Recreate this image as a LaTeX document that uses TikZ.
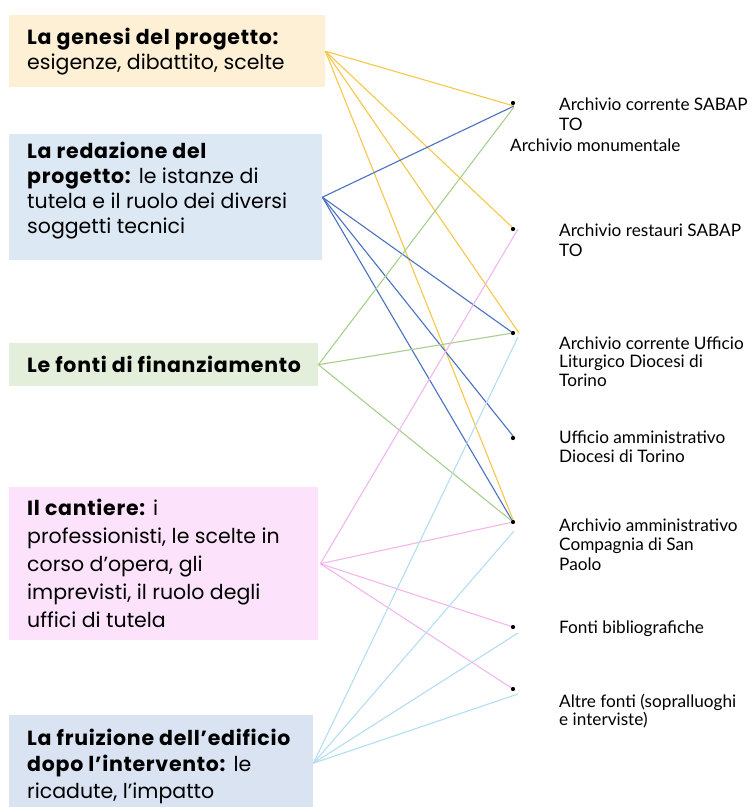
\documentclass[tikz,border=0pt]{standalone}
\usepackage{fontspec}
\setmainfont{Lato}
\newfontfamily\leftfont{Poppins}[BoldFeatures={LetterSpace=3.5}]
\definecolor{bxYel}{HTML}{FDF0D5}
\definecolor{bxBlu}{HTML}{DDE8F5}
\definecolor{bxGrn}{HTML}{E3EEDB}
\definecolor{bxPnk}{HTML}{FCE3FB}
\definecolor{bxGry}{HTML}{D9E3F2}
\definecolor{lnYel}{HTML}{F6C84A}
\definecolor{lnBlu}{HTML}{4A72C0}
\definecolor{lnGrn}{HTML}{A8CF8E}
\definecolor{lnPnk}{HTML}{F2B8EE}
\definecolor{lnLbl}{HTML}{B6DDF3}
\newcommand\mlines[2]{\vtop{\baselineskip=#1pt\relax #2}}
\begin{document}
\begin{tikzpicture}[x=1pt,y=-1pt,
  sbox/.style={draw=none,inner sep=0pt,anchor=north west},
  ltext/.style={inner sep=0pt,anchor=base west,font=\leftfont\fontsize{20.5}{25}\selectfont},
  rtext/.style={inner sep=0pt,anchor=base west,font=\fontsize{17.2}{19}\selectfont},
  sdot/.style={circle,fill=black,inner sep=0pt,minimum size=4pt},
  conn/.style={line width=1.1pt}]
\clip (0,0) rectangle (753,807);
\fill[white] (0,0) rectangle (753,807);
% boxes
\node[sbox,fill=bxYel,minimum width=316pt,minimum height=72pt] (b1) at (9,15) {};
\node[sbox,fill=bxBlu,minimum width=313pt,minimum height=126pt] (b2) at (9,134) {};
\node[sbox,fill=bxGrn,minimum width=309pt,minimum height=43pt] (b3) at (9,343) {};
\node[sbox,fill=bxPnk,minimum width=309pt,minimum height=153pt] (b4) at (9,487) {};
\node[sbox,fill=bxGry,minimum width=304pt,minimum height=96pt] (b5) at (9,715) {};
% box texts
\node[ltext] (t1) at (27,44) {\mlines{25}{\hbox{\textbf{La genesi del progetto:}}\hbox{esigenze, dibattito, scelte}}};
\node[ltext] (t2) at (27,158) {\mlines{25}{\hbox{\textbf{La redazione del}}\hbox{\textbf{progetto:} le istanze di}\hbox{tutela e il ruolo dei diversi}\hbox{soggetti tecnici}}};
\node[ltext] (t3) at (27,372) {\textbf{Le fonti di finanziamento}};
\node[ltext] (t4) at (27,515) {\mlines{28}{\hbox{\textbf{Il cantiere:} i}\hbox{professionisti, le scelte in}\hbox{corso d’opera, gli}\hbox{imprevisti, il ruolo degli}\hbox{uffici di tutela}}};
\node[ltext] (t5) at (27,745) {\mlines{26.5}{\hbox{\textbf{La fruizione dell’edificio}}\hbox{\textbf{dopo l’intervento:} le}\hbox{ricadute, l’impatto}}};
% dots
\node[sdot] (d1) at (513,103) {};
\node[sdot] (d2) at (513,229) {};
\node[sdot] (d3) at (513,333) {};
\node[sdot] (d4) at (513,438) {};
\node[sdot] (d5) at (513,522) {};
\node[sdot] (d6) at (513,627) {};
\node[sdot] (d7) at (513,689) {};
% right labels
\node[rtext] (r1) at (559,110) {\mlines{20.5}{\hbox{Archivio corrente SABAP}\hbox{TO}}};
\node[rtext] (rm) at (510,151) {Archivio monumentale};
\node[rtext] (r2) at (559,236) {\mlines{20}{\hbox{Archivio restauri SABAP}\hbox{TO}}};
\node[rtext] (r3) at (559,349) {\mlines{18.5}{\hbox{Archivio corrente Ufficio}\hbox{Liturgico Diocesi di}\hbox{Torino}}};
\node[rtext] (r4) at (559,443) {\mlines{19}{\hbox{Ufficio amministrativo}\hbox{Diocesi di Torino}}};
\node[rtext] (r5) at (559,531) {\mlines{19.5}{\hbox{Archivio amministrativo}\hbox{Compagnia di San}\hbox{Paolo}}};
\node[rtext] (r6) at (559,633) {Fonti bibliografiche};
\node[rtext] (r7) at (559,707) {\mlines{18.5}{\hbox{Altre fonti (sopralluoghi}\hbox{e interviste)}}};
% connectors: yellow
\draw[conn,lnYel] (b1.east) -- ([shift={(1,3)}]d1.center);
\draw[conn,lnYel] (b1.east) -- ([shift={(0,-1)}]d2.center);
\draw[conn,lnYel] (b1.east) -- ([shift={(6,0)}]d3.center);
\draw[conn,lnYel] (b1.east) -- ([shift={(1,0)}]d5.center);
% dark blue
\draw[conn,lnBlu] (b2.east) -- ([shift={(1,3)}]d1.center);
\draw[conn,lnBlu] (b2.east) -- (d3.center);
\draw[conn,lnBlu] (b2.east) -- ([shift={(0,-2)}]d4.center);
\draw[conn,lnBlu] (b2.east) -- (d5.center);
% green
\draw[conn,lnGrn] (b3.east) -- ([shift={(1,4)}]d1.center);
\draw[conn,lnGrn] (b3.east) -- (d3.center);
\draw[conn,lnGrn] (b3.east) -- (d5.center);
% pink
\draw[conn,lnPnk] ([xshift=2pt]b4.east) -- ([shift={(5,0)}]d2.center);
\draw[conn,lnPnk] ([xshift=2pt]b4.east) -- (d5.center);
\draw[conn,lnPnk] ([xshift=2pt]b4.east) -- (d6.center);
\draw[conn,lnPnk] ([xshift=2pt]b4.east) -- (d7.center);
% light blue
\draw[conn,lnLbl] (b5.east) -- ([shift={(5,4)}]d3.center);
\draw[conn,lnLbl] (b5.east) -- ([shift={(1,9)}]d5.center);
\draw[conn,lnLbl] (b5.east) -- ([shift={(5,6)}]d6.center);
\draw[conn,lnLbl] (b5.east) -- ([shift={(5,5)}]d7.center);
% dots on top
\foreach \d in {d1,d2,d3,d4,d5,d6,d7} \fill[black] (\d) circle (2pt);
\end{tikzpicture}
\end{document}
